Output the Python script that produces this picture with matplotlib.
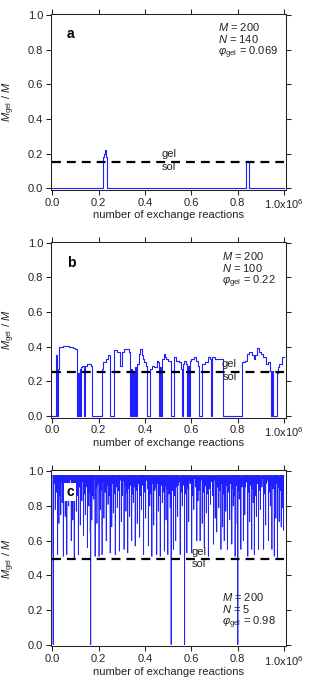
import matplotlib
matplotlib.use("Agg")

import matplotlib.pyplot as plt
import numpy as np

plt.rcParams["font.family"] = ["Liberation Sans", "DejaVu Sans"]
plt.rcParams["mathtext.fontset"] = "custom"
plt.rcParams["mathtext.rm"] = "Liberation Sans"
plt.rcParams["mathtext.it"] = "Liberation Sans:italic"
plt.rcParams["mathtext.bf"] = "Liberation Sans:bold"

# ── data (x in units of 1e6 exchange reactions) ─────────────────────────

x_ticks = [0.0, 0.2, 0.4, 0.6, 0.8, 1.0]
x_tick_labels = ["0.0", "0.2", "0.4", "0.6", "0.8", "1.0x10$^{6}$"]
y_ticks = [0.0, 0.2, 0.4, 0.6, 0.8, 1.0]

# panel a : step trace (interval start, level)
a_start = [0.0, 0.2175, 0.224, 0.228, 0.232, 0.235, 0.835, 0.840, 0.850]
a_level = [0.0, 0.18, 0.20, 0.22, 0.18, 0.0, 0.16, 0.155, 0.0]
a_gel = 0.153
a_info = ["$M$ = 200", "$N$ = 140", r"$φ_{\rm gel}$ = 0.069"]

# panel b : step trace (interval start, level)
b_start = [0.000, 0.016, 0.022, 0.026, 0.030, 0.045, 0.070, 0.090, 0.100, 0.108,
           0.112, 0.115, 0.118, 0.121, 0.124, 0.130, 0.135, 0.142, 0.150, 0.165,
           0.170, 0.172, 0.213, 0.220, 0.230, 0.240, 0.248, 0.265, 0.280, 0.290,
           0.300, 0.310, 0.330, 0.335, 0.340, 0.345, 0.350, 0.353, 0.357, 0.362,
           0.366, 0.375, 0.380, 0.385, 0.390, 0.395, 0.405, 0.410, 0.420, 0.430,
           0.440, 0.450, 0.455, 0.460, 0.465, 0.470, 0.475, 0.480, 0.485, 0.490,
           0.500, 0.510, 0.525, 0.535, 0.545, 0.555, 0.560, 0.565, 0.570, 0.575,
           0.580, 0.585, 0.590, 0.595, 0.600, 0.610, 0.620, 0.630, 0.635, 0.645,
           0.660, 0.670, 0.680, 0.685, 0.690, 0.700, 0.735, 0.820, 0.830, 0.840,
           0.850, 0.860, 0.870, 0.875, 0.885, 0.890, 0.900, 0.910, 0.920, 0.930,
           0.940, 0.945, 0.950, 0.953, 0.970, 0.975, 0.980, 0.990]
b_level = [0.0, 0.35, 0.0, 0.27, 0.40, 0.405, 0.40, 0.395, 0.385, 0.0,
           0.25, 0.0, 0.27, 0.0, 0.28, 0.29, 0.0, 0.29, 0.30, 0.29,
           0.26, 0.0, 0.27, 0.31, 0.33, 0.35, 0.0, 0.38, 0.37, 0.29,
           0.37, 0.385, 0.37, 0.0, 0.27, 0.0, 0.26, 0.0, 0.28, 0.0,
           0.30, 0.36, 0.385, 0.35, 0.33, 0.31, 0.29, 0.0, 0.27, 0.29,
           0.28, 0.32, 0.31, 0.0, 0.28, 0.0, 0.33, 0.36, 0.34, 0.33,
           0.32, 0.0, 0.34, 0.32, 0.31, 0.27, 0.0, 0.30, 0.32, 0.30,
           0.0, 0.29, 0.0, 0.32, 0.33, 0.34, 0.32, 0.29, 0.0, 0.30,
           0.31, 0.34, 0.33, 0.0, 0.34, 0.33, 0.0, 0.31, 0.32, 0.36,
           0.37, 0.35, 0.33, 0.35, 0.39, 0.37, 0.36, 0.34, 0.30, 0.31,
           0.26, 0.0, 0.26, 0.0, 0.25, 0.28, 0.30, 0.34]
b_gel = 0.254
b_info = ["$M$ = 200", "$N$ = 100", r"$φ_{\rm gel}$ = 0.22"]

# panel c : plateau with short dips
c_top = 0.975
c_zero_x = [0.003, 0.165, 0.512, 0.570, 0.800]
c_zero_y = [0.0, 0.0, 0.0, 0.0, 0.0]
c_deep_x = [0.004, 0.022, 0.036, 0.047, 0.062, 0.081, 0.094, 0.112, 0.134, 0.151,
            0.163, 0.184, 0.201, 0.214, 0.232, 0.249, 0.271, 0.289, 0.309, 0.325,
            0.342, 0.357, 0.376, 0.393, 0.414, 0.429, 0.450, 0.465, 0.483, 0.498,
            0.522, 0.532, 0.551, 0.580, 0.601, 0.623, 0.637, 0.655, 0.673, 0.695,
            0.709, 0.727, 0.741, 0.755, 0.774, 0.788, 0.813, 0.824, 0.843, 0.860,
            0.871, 0.889, 0.911, 0.932, 0.947, 0.957, 0.971, 0.987, 0.997]
c_deep_y = [0.53, 0.52, 0.75, 0.51, 0.52, 0.60, 0.50, 0.52, 0.63, 0.56,
            0.65, 0.51, 0.51, 0.52, 0.60, 0.53, 0.52, 0.54, 0.55, 0.53,
            0.60, 0.57, 0.62, 0.52, 0.57, 0.51, 0.52, 0.51, 0.54, 0.52,
            0.55, 0.60, 0.52, 0.53, 0.53, 0.60, 0.60, 0.56, 0.51, 0.58,
            0.65, 0.55, 0.60, 0.55, 0.58, 0.51, 0.55, 0.60, 0.51, 0.55,
            0.52, 0.55, 0.55, 0.60, 0.55, 0.51, 0.50, 0.68, 0.66]
c_mid_x = [0.012, 0.028, 0.042, 0.055, 0.070, 0.088, 0.103, 0.120, 0.127, 0.142,
           0.157, 0.170, 0.178, 0.192, 0.207, 0.222, 0.240, 0.256, 0.263, 0.280,
           0.297, 0.317, 0.333, 0.349, 0.366, 0.384, 0.402, 0.420, 0.437, 0.457,
           0.474, 0.490, 0.508, 0.540, 0.560, 0.588, 0.610, 0.628, 0.646, 0.664,
           0.682, 0.702, 0.718, 0.734, 0.748, 0.765, 0.780, 0.797, 0.806, 0.830,
           0.851, 0.866, 0.880, 0.897, 0.920, 0.940, 0.964, 0.978, 0.993]
c_mid_y = [0.78, 0.70, 0.82, 0.74, 0.80, 0.72, 0.77, 0.69, 0.83, 0.75,
           0.80, 0.72, 0.84, 0.70, 0.78, 0.73, 0.81, 0.68, 0.76, 0.79,
           0.71, 0.77, 0.74, 0.82, 0.70, 0.78, 0.73, 0.80, 0.69, 0.77,
           0.82, 0.72, 0.79, 0.74, 0.80, 0.71, 0.78, 0.83, 0.70, 0.76,
           0.81, 0.73, 0.79, 0.68, 0.77, 0.72, 0.80, 0.70, 0.84, 0.75,
           0.71, 0.82, 0.74, 0.78, 0.69, 0.80, 0.73, 0.71, 0.79]
c_shallow_x = [0.007, 0.017, 0.025, 0.033, 0.039, 0.050, 0.058, 0.066, 0.076, 0.084,
               0.091, 0.098, 0.108, 0.116, 0.124, 0.131, 0.138, 0.147, 0.154, 0.160,
               0.167, 0.175, 0.188, 0.196, 0.204, 0.211, 0.218, 0.227, 0.236, 0.244,
               0.252, 0.260, 0.267, 0.275, 0.285, 0.293, 0.301, 0.313, 0.321, 0.329,
               0.338, 0.345, 0.353, 0.361, 0.371, 0.380, 0.389, 0.397, 0.407, 0.411,
               0.425, 0.433, 0.442, 0.446, 0.461, 0.469, 0.478, 0.487, 0.494, 0.503,
               0.514, 0.518, 0.527, 0.536, 0.546, 0.555, 0.566, 0.575, 0.584, 0.594,
               0.605, 0.617, 0.633, 0.641, 0.651, 0.660, 0.669, 0.678, 0.687, 0.691,
               0.713, 0.722, 0.731, 0.738, 0.752, 0.760, 0.770, 0.777, 0.785, 0.792,
               0.801, 0.818, 0.827, 0.836, 0.847, 0.856, 0.863, 0.875, 0.884, 0.893,
               0.904, 0.915, 0.925, 0.935, 0.944, 0.952, 0.961, 0.968, 0.983, 0.990]
c_shallow_y = [0.93, 0.88, 0.91, 0.86, 0.94, 0.89, 0.92, 0.87, 0.95, 0.90,
               0.88, 0.93, 0.86, 0.91, 0.89, 0.94, 0.87, 0.92, 0.90, 0.88,
               0.95, 0.86, 0.91, 0.93, 0.87, 0.89, 0.94, 0.88, 0.92, 0.86,
               0.90, 0.93, 0.87, 0.91, 0.89, 0.95, 0.86, 0.92, 0.88, 0.90,
               0.94, 0.87, 0.91, 0.89, 0.93, 0.86, 0.92, 0.88, 0.95, 0.90,
               0.87, 0.93, 0.89, 0.91, 0.86, 0.94, 0.88, 0.92, 0.90, 0.87,
               0.93, 0.89, 0.86, 0.91, 0.94, 0.88, 0.92, 0.87, 0.90, 0.93,
               0.86, 0.91, 0.89, 0.95, 0.88, 0.92, 0.87, 0.90, 0.94, 0.86,
               0.91, 0.89, 0.93, 0.87, 0.92, 0.88, 0.95, 0.90, 0.86, 0.93,
               0.89, 0.91, 0.87, 0.94, 0.88, 0.92, 0.90, 0.86, 0.93, 0.89,
               0.91, 0.87, 0.94, 0.88, 0.92, 0.90, 0.86, 0.93, 0.89, 0.91]
c_fine_x = [0.010, 0.020, 0.030, 0.044, 0.053, 0.064, 0.073, 0.080, 0.096, 0.106,
            0.114, 0.122, 0.136, 0.145, 0.158, 0.172, 0.181, 0.194, 0.209, 0.216,
            0.225, 0.238, 0.247, 0.258, 0.265, 0.278, 0.287, 0.299, 0.306, 0.315,
            0.327, 0.336, 0.347, 0.356, 0.368, 0.378, 0.386, 0.395, 0.404, 0.417,
            0.427, 0.439, 0.453, 0.463, 0.472, 0.481, 0.492, 0.506, 0.524, 0.534,
            0.543, 0.553, 0.563, 0.578, 0.591, 0.599, 0.612, 0.625, 0.638, 0.648,
            0.657, 0.666, 0.680, 0.699, 0.706, 0.716, 0.729, 0.743, 0.757, 0.767,
            0.783, 0.795, 0.808, 0.816, 0.833, 0.841, 0.853, 0.868, 0.878, 0.887,
            0.899, 0.909, 0.922, 0.930, 0.942, 0.955, 0.966, 0.975, 0.985, 0.995]
c_fine_y = [0.95, 0.93, 0.96, 0.92, 0.95, 0.94, 0.91, 0.96, 0.93, 0.95,
            0.92, 0.96, 0.94, 0.91, 0.95, 0.93, 0.96, 0.92, 0.94, 0.95,
            0.91, 0.96, 0.93, 0.95, 0.92, 0.94, 0.96, 0.91, 0.95, 0.93,
            0.96, 0.92, 0.94, 0.95, 0.91, 0.93, 0.96, 0.92, 0.95, 0.94,
            0.91, 0.96, 0.93, 0.95, 0.92, 0.94, 0.96, 0.91, 0.95, 0.93,
            0.92, 0.96, 0.94, 0.91, 0.95, 0.93, 0.96, 0.92, 0.94, 0.95,
            0.91, 0.96, 0.93, 0.95, 0.92, 0.94, 0.96, 0.91, 0.95, 0.93,
            0.96, 0.92, 0.94, 0.95, 0.91, 0.93, 0.96, 0.92, 0.95, 0.94,
            0.91, 0.96, 0.93, 0.95, 0.92, 0.94, 0.96, 0.91, 0.95, 0.93]
c_gel = 0.492
c_info = ["$M$ = 200", "$N$ = 5", r"$φ_{\rm gel}$ = 0.98"]


def step_series(starts, levels, end=1.0):
    x = np.array(list(starts) + [end])
    y = np.array(list(levels) + [levels[-1]])
    return x, y


def dip_series(top, dx, dy, width=0.0012):
    order = np.argsort(dx)
    xs, ys = [0.0], [top]
    for i in order:
        x0 = dx[i]
        xs += [x0, x0, x0 + width, x0 + width]
        ys += [top, dy[i], dy[i], top]
    xs.append(1.0)
    ys.append(top)
    return np.array(xs), np.array(ys)


def style_axes(ax):
    ax.set_xlim(-0.007, 1.007)
    ax.set_ylim(-0.01, 1.006)
    ax.set_xticks(x_ticks)
    ax.set_xticklabels(x_tick_labels)
    ax.set_yticks(y_ticks)
    ax.set_yticklabels([f"{v:.1f}" for v in y_ticks])
    ax.tick_params(direction="out", length=3.5, width=0.75, top=True, right=True,
                   labelsize=8, pad=2, colors="#222")
    for sp in ax.spines.values():
        sp.set_linewidth(0.75)
        sp.set_color("#222")
    ax.set_xlabel("number of exchange reactions", fontsize=8, color="#222")
    ax.set_ylabel(r"$M_{\rm gel}$ / $M$", fontsize=8, color="#222")
    ax.xaxis.set_label_coords(0.5, -0.115)
    ax.yaxis.set_label_coords(-0.143, 0.5)


def gel_line(ax, level, xg):
    ax.plot([0, 1.0], [level, level], color="black", lw=1.6, dashes=(4, 2.7), zorder=4)
    ax.text(xg, level + 0.026, "gel", ha="center", va="baseline", fontsize=8, color="#222")
    ax.text(xg, level - 0.046, "sol", ha="center", va="baseline", fontsize=8, color="#222")


def info(ax, lines, x, y0, step=0.071):
    for i, t in enumerate(lines):
        ax.text(x, y0 - i * step, t, transform=ax.transAxes, ha="left",
                va="baseline", fontsize=8, color="#222")


fig = plt.figure(figsize=(3.12, 6.84), dpi=100, facecolor="white")
ax_a = fig.add_axes([0.1625, 0.7222, 0.7532, 0.2573])
ax_b = fig.add_axes([0.1625, 0.3893, 0.7532, 0.2573])
ax_c = fig.add_axes([0.1625, 0.0550, 0.7532, 0.2573])

blue = "#1f1fff"

# a
x, y = step_series(a_start, a_level)
ax_a.plot(x, y, drawstyle="steps-post", color=blue, lw=0.8, zorder=3)
gel_line(ax_a, a_gel, 0.504)
style_axes(ax_a)
info(ax_a, a_info, 0.712, 0.906)
ax_a.text(0.086, 0.886, "a", transform=ax_a.transAxes, ha="center", va="center",
          fontsize=10, fontweight="bold")

# b
x, y = step_series(b_start, b_level)
ax_b.plot(x, y, drawstyle="steps-post", color=blue, lw=0.8, zorder=3)
gel_line(ax_b, b_gel, 0.764)
style_axes(ax_b)
info(ax_b, b_info, 0.729, 0.899)
ax_b.text(0.086, 0.880, "b", transform=ax_b.transAxes, ha="center", va="center",
          fontsize=10, fontweight="bold")

# c
dx = c_zero_x + c_deep_x + c_mid_x + c_shallow_x + c_fine_x
dy = c_zero_y + c_deep_y + c_mid_y + c_shallow_y + c_fine_y
x, y = dip_series(c_top, dx, dy)
ax_c.plot(x, y, color=blue, lw=0.55, zorder=3)
gel_line(ax_c, c_gel, 0.633)
style_axes(ax_c)
info(ax_c, c_info, 0.729, 0.260)
ax_c.text(0.083, 0.879, "c", transform=ax_c.transAxes, ha="center", va="center",
          fontsize=10, fontweight="bold", zorder=6,
          bbox=dict(fc="white", ec="none", pad=1.5))

fig.savefig("out.png", dpi=100, facecolor="white")
